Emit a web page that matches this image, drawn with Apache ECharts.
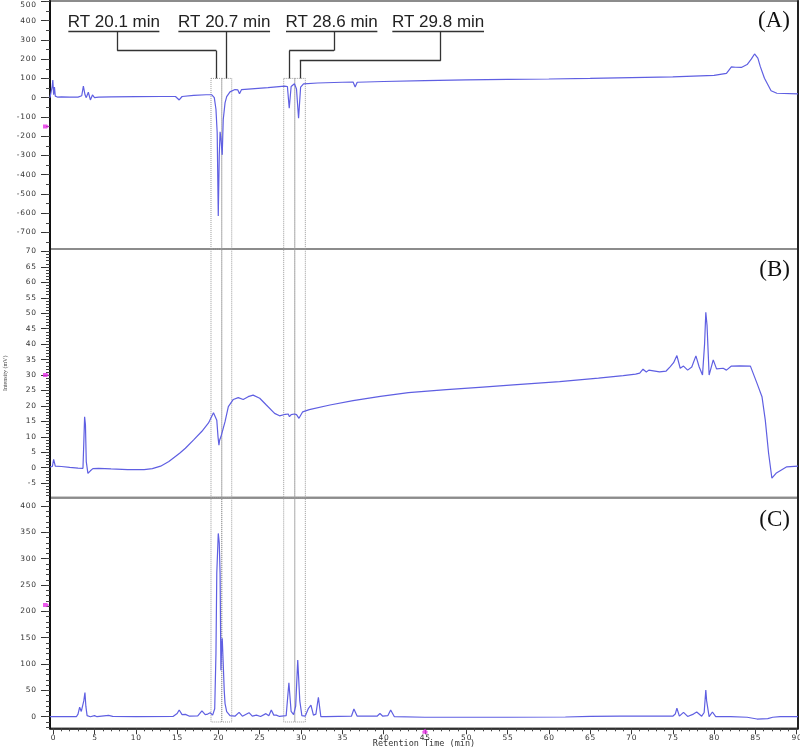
<!DOCTYPE html>
<html><head><meta charset="utf-8">
<script src="https://cdn.jsdelivr.net/npm/echarts@6/dist/echarts.min.js"></script>
<style>html,body{margin:0;padding:0;background:#fff}#c{width:800px;height:747px}</style>
</head><body><div id="c"></div>
<script>
// ---------------- data ----------------
const xRange = [-0.39, 90.16];
const xTickLabels = [0,5,10,15,20,25,30,35,40,45,50,55,60,65,70,75,80,85,90];

const yRangeA = [-786, 502];
const yLabelsA = [-700,-600,-500,-400,-300,-200,-100,0,100,200,300,400,500];
const yRangeB = [-9.7, 70.8];
const yLabelsB = [-5,0,5,10,15,20,25,30,35,40,45,50,55,60,65,70];
const yRangeC = [-22, 415.8];
const yLabelsC = [0,50,100,150,200,250,300,350,400];

const panelLabels = ['(A)', '(B)', '(C)'];
const axisTitleX = 'Retention Time (min)';
const axisTitleY = 'Intensity (mV)';

// retention-time labels and their windows (min)
const rtLabels = ['RT 20.1 min', 'RT 20.7 min', 'RT 28.6 min', 'RT 29.8 min'];
const rtWindows = [[19.1, 20.4], [20.4, 21.61], [27.9, 29.24], [29.24, 30.52]];

// reference marker positions on axes (values)
const markerA = -150, markerB = 30, markerC = 212, markerX = 45;

// chromatogram (A)
const seriesA = [[-0.39,0],[-0.25,4],[-0.12,60],[-0.05,92],[0.05,15],[0.15,55],[0.25,8],[0.5,3],[1,4],[2,3],[3,3],[3.45,10],[3.65,60],[3.85,15],[4.0,0],[4.25,28],[4.5,-12],[4.75,14],[5.0,0],[5.5,3],[7,4],[10,5],[13,6],[14.8,6],[15.25,-12],[15.6,6],[17,12],[18.5,15],[19.2,15],[19.5,0],[19.7,-60],[19.85,-184],[19.98,-615],[20.1,-300],[20.2,-177],[20.3,-210],[20.46,-297],[20.58,-115],[20.8,-27],[21.0,5],[21.4,30],[22,42],[22.35,40],[22.55,20],[22.8,42],[24,46],[26,52],[28,60],[28.35,58],[28.57,-55],[28.8,58],[29.2,72],[29.45,45],[29.7,-107],[29.95,55],[30.3,72],[32,76],[35,80],[36.3,81],[36.55,55],[36.8,80],[40,84],[45,88],[50,92],[55,95],[60,97],[65,100],[70,104],[75,108],[80,116],[81.5,126],[82.1,160],[82.6,158],[83.3,157],[84,172],[84.5,200],[84.9,227],[85.3,205],[85.6,161],[86.1,101],[86.9,36],[87.6,23],[90.16,20]];

// chromatogram (B)
const seriesB = [[-0.39,0.3],[-0.1,0.4],[0.05,2.7],[0.25,0.5],[1,0.4],[2,0.1],[3,-0.1],[3.6,-0.2],[3.7,8],[3.8,16.5],[3.9,14],[4.0,2],[4.2,-1.8],[4.5,-1.0],[4.8,-0.3],[5.0,0.2],[5.5,-0.2],[7,-0.4],[9,-0.6],[11,-0.6],[12,-0.3],[13,0.5],[14,2],[15.3,4.7],[16,6.3],[17,9],[18,11.8],[18.8,14.5],[19.4,17.8],[19.6,18.1],[19.8,15.4],[19.95,10],[20.06,7.3],[20.15,9],[20.3,10],[20.5,10],[20.8,14.9],[21.2,19.8],[21.8,22.1],[22.4,22.7],[23,22.1],[23.6,23],[24.2,23.5],[25,22.5],[25.8,20.3],[26.8,17.6],[27.4,16.8],[28.1,17.3],[28.45,17.4],[28.6,16.5],[28.8,17.2],[29.2,17.4],[29.45,17.2],[29.75,16.0],[30.2,18.1],[31,18.8],[33.5,20.3],[36.3,21.7],[39.6,23.1],[43,24.3],[47.6,25.3],[52,26.1],[55.7,26.8],[61.3,27.9],[66,29],[69,29.8],[70.5,30.3],[71,30.6],[71.4,31.9],[71.8,31],[72.1,31.6],[73.4,31],[74.2,31.3],[74.7,32.7],[75.1,34],[75.5,36.3],[75.9,32.2],[76.3,32.9],[76.8,31.6],[77.3,32.6],[77.8,36.2],[78.2,32.6],[78.6,30.0],[78.85,40],[79.0,50.3],[79.15,46],[79.4,30.0],[79.9,34.9],[80.3,32],[81.1,32.2],[81.5,31.6],[82.1,32.9],[83.1,33],[84.4,32.9],[85.2,27.3],[85.8,23],[86.2,15.4],[86.6,4.7],[87.0,-3.4],[87.5,-1.8],[88.8,0.3],[90.16,0.5]];

// chromatogram (C)
const seriesC = [[-0.39,0],[2.8,0],[3.0,5],[3.2,18],[3.4,10],[3.5,9.5],[3.7,30],[3.84,46],[3.95,20],[4.1,2],[4.5,0],[5.0,2],[5.3,0],[6.7,2.5],[7.2,0.5],[10,0],[14.5,0.5],[15.0,6],[15.25,12.7],[15.6,4],[16.0,4.5],[16.5,1],[17.5,1.5],[18.0,11],[18.4,4],[18.7,5],[19.0,7.6],[19.3,3],[19.55,15],[19.7,120],[19.8,272],[19.98,348],[20.1,330],[20.2,272],[20.3,88],[20.4,140],[20.46,149],[20.58,101],[20.7,50],[20.8,25],[21.0,9.5],[21.4,2],[22.0,1],[22.5,8.2],[22.9,1],[23.7,7.6],[24.1,1],[24.6,3],[25.1,0.5],[25.75,5.8],[26.1,2],[26.4,12.7],[26.7,3],[27.0,3],[27.4,0.5],[28.2,2],[28.53,64.6],[28.8,10],[29.1,4],[29.35,20],[29.6,107.6],[29.85,30],[30.1,2],[30.5,1],[30.9,16],[31.2,22],[31.5,3],[31.8,5],[32.1,37],[32.4,0],[33,0],[36.1,1],[36.4,14.6],[36.8,1],[39.2,1],[39.55,6],[39.9,1],[40.5,2],[40.85,12.7],[41.3,0],[45,-1],[55,-1],[62,-0.5],[65,0.5],[68.6,1],[68.8,2.5],[69.1,1],[72,1],[75,1],[75.3,5],[75.5,16],[75.8,1],[76.3,8.3],[76.8,0.5],[77.5,5],[77.9,9],[78.5,1],[78.8,8],[79.0,50.6],[79.1,30],[79.4,0],[79.8,9],[80.2,0],[82,0],[84,-1],[85.2,-4.4],[86.5,-3.5],[87.1,-1],[88,0],[90.16,0]];

// ---------------- option building ----------------
function steps(a, b, s) { const r = []; for (let v = a; v <= b + 1e-9; v += s) r.push(+v.toFixed(4)); return r; }
const spaced = v => String(v).split('').join('\u200A');

const LINE = '#5f5fe2';
const grids = [
  {left: 50, right: 2, top: 1, height: 248},
  {left: 50, right: 2, top: 249, height: 248.7},
  {left: 50, right: 2, top: 497.7, height: 230.6}
].map(g => Object.assign(g, {show: true, borderColor: '#8c8c8c', borderWidth: 2, outerBoundsMode: 'none', containLabel: false}));

const labelFont = {fontSize: 7.5, color: '#333', fontFamily: 'DejaVu Sans'};

function yMain(gi, range, labels, extra) {
  const top = labels[labels.length - 1];
  return Object.assign({
    type: 'value', gridIndex: gi, position: 'left', min: range[0], max: range[1],
    axisLine: {show: true, onZero: false, lineStyle: {color: '#111', width: 2}},
    axisTick: {show: true, customValues: labels, length: 9, lineStyle: {color: '#333', width: 1}},
    axisLabel: Object.assign({show: true, customValues: labels, margin: 14,
      formatter: v => (gi === 0 && v === top) ? '{t|' + spaced(v) + '}' : spaced(v),
      rich: {t: Object.assign({padding: [7, 0, 0, 0]}, labelFont)}}, labelFont),
    splitLine: {show: false}
  }, extra || {});
}
function yMinor(gi, range, ticks) {
  return {type: 'value', gridIndex: gi, position: 'left', offset: 0, min: range[0], max: range[1],
    axisLine: {show: false, onZero: false}, axisLabel: {show: false}, splitLine: {show: false},
    axisTick: {show: true, customValues: ticks, length: 4, lineStyle: {color: '#444', width: 1}}};
}
function yRight(gi, range) {
  return {type: 'value', gridIndex: gi, position: 'right', min: range[0], max: range[1],
    axisLine: {show: true, onZero: false, lineStyle: {color: '#222', width: 2}},
    axisTick: {show: false}, axisLabel: {show: false}, splitLine: {show: false}};
}

const yAxes = [
  yMain(0, yRangeA, yLabelsA), yMinor(0, yRangeA, steps(-750, 500, 50)), yRight(0, yRangeA),
  yMain(1, yRangeB, yLabelsB, {name: axisTitleY, nameLocation: 'middle', nameRotate: 90, nameGap: 42,
    nameMoveOverlap: false,
    nameTextStyle: {fontSize: 6, color: '#444', fontFamily: 'Liberation Serif'}}),
  yMinor(1, yRangeB, steps(-9, 70, 1)), yRight(1, yRangeB),
  yMain(2, yRangeC, yLabelsC), yMinor(2, yRangeC, steps(-20, 410, 10)), yRight(2, yRangeC)
];

const xHidden = gi => ({type: 'value', gridIndex: gi, min: xRange[0], max: xRange[1], show: false});
const xAxes = [
  xHidden(0), xHidden(1),
  {type: 'value', gridIndex: 2, position: 'bottom', min: xRange[0], max: xRange[1],
    axisLine: {show: true, onZero: false, lineStyle: {color: '#111', width: 1.5}},
    axisTick: {show: true, customValues: xTickLabels, length: 6, lineStyle: {color: '#333'}},
    axisLabel: Object.assign({show: true, customValues: xTickLabels, margin: 6, formatter: spaced}, labelFont),
    splitLine: {show: false},
    name: axisTitleX, nameLocation: 'middle', nameGap: 11, nameMoveOverlap: false,
    nameTextStyle: {fontSize: 8.5, color: '#333', fontFamily: 'DejaVu Sans Mono', padding: 0}},
  {type: 'value', gridIndex: 2, position: 'bottom', offset: 0, min: xRange[0], max: xRange[1],
    axisLine: {show: false, onZero: false}, axisLabel: {show: false}, splitLine: {show: false},
    axisTick: {show: true, customValues: steps(0, 90, 1), length: 3, lineStyle: {color: '#444'}}}
];

const boxStyle = {color: 'rgba(0,0,0,0)', borderColor: '#9a9a9a', borderWidth: 1, borderType: 'dotted'};
const boxTopA = 100, boxBottomC = -10;

// annotation geometry in panel A (data coords)
const textY = 391, underY = 343;
const textSpans = [[1.83, 12.85], [15.15, 26.25], [28.18, 39.24], [41.05, 52.15]];
const leaders = [
  [[7.75, underY], [7.75, 244], [19.75, 244], [19.75, boxTopA]],
  [[21.0, underY], [21.0, boxTopA]],
  [[33.99, underY], [33.99, 244], [28.57, 244], [28.57, boxTopA]],
  [[46.91, underY], [46.91, 192], [29.85, 192], [29.85, boxTopA]]
];
const segs = [];
textSpans.forEach(s => segs.push([{coord: [s[0], underY]}, {coord: [s[1], underY]}]));
leaders.forEach(p => { for (let i = 0; i < p.length - 1; i++) segs.push([{coord: p[i]}, {coord: p[i + 1]}]); });

const lineSeries = (xi, yi, data, mArea, extra) => Object.assign({
  type: 'line', xAxisIndex: xi, yAxisIndex: yi, data: data, symbol: 'none', smooth: false,
  lineStyle: {color: LINE, width: 1.2}, itemStyle: {color: LINE}, silent: true, animation: false,
  markArea: {silent: true, itemStyle: boxStyle, data: mArea}
}, extra || {});

const areaA = rtWindows.map(w => [{coord: [w[0], boxTopA]}, {coord: [w[1], yRangeA[0]]}]);
const areaB = rtWindows.map(w => [{xAxis: w[0]}, {xAxis: w[1]}]);
const areaC = rtWindows.map(w => [{coord: [w[0], yRangeC[1]]}, {coord: [w[1], boxBottomC]}]);

const arrowRight = 'path://M0,0 L6,0 L9,3 L6,6 L0,6 Z';
const arrowUp = 'path://M3,0 L6,3 L6,6 L0,6 L0,3 Z';
const markerSeries = (xi, yi, pt, sym, off, size) => ({
  type: 'scatter', xAxisIndex: xi, yAxisIndex: yi, data: [pt], symbol: sym, symbolSize: size,
  symbolOffset: off, itemStyle: {color: '#e62ee6'}, clip: false, silent: true, animation: false, z: 10
});

const option = {
  animation: false,
  backgroundColor: '#fff',
  grid: grids,
  xAxis: xAxes,
  yAxis: yAxes,
  title: panelLabels.map((t, i) => ({
    text: t, right: 10, top: [9, 258, 508][i], padding: 0,
    textStyle: {fontFamily: 'Liberation Serif', fontSize: 23, fontWeight: 'normal', color: '#111'}
  })),
  series: [
    lineSeries(0, 0, seriesA, areaA, {
      markLine: {silent: true, symbol: ['none', 'none'], label: {show: false},
        lineStyle: {color: '#333', width: 1.3, type: 'solid'}, data: segs},
      markPoint: {silent: true, symbol: 'circle', symbolSize: 1, itemStyle: {color: 'rgba(0,0,0,0)'},
        label: {show: true, position: 'inside', fontSize: 17, color: '#222', fontFamily: 'Liberation Sans'},
        data: rtLabels.map((t, i) => ({coord: [(textSpans[i][0] + textSpans[i][1]) / 2, textY], label: {formatter: t}}))}
    }),
    lineSeries(1, 3, seriesB, areaB),
    lineSeries(2, 6, seriesC, areaC),
    markerSeries(0, 0, [xRange[0], markerA], arrowRight, [-4, 0], [6, 4]),
    markerSeries(1, 3, [xRange[0], markerB], arrowRight, [-4, 0], [6, 4]),
    markerSeries(2, 6, [xRange[0], markerC], arrowRight, [-4, 0], [6, 4]),
    markerSeries(2, 6, [markerX, yRangeC[0]], arrowUp, [0, 3], [5, 5])
  ]
};
echarts.init(document.getElementById('c'), null, {renderer: 'canvas'}).setOption(option);
</script></body></html>
